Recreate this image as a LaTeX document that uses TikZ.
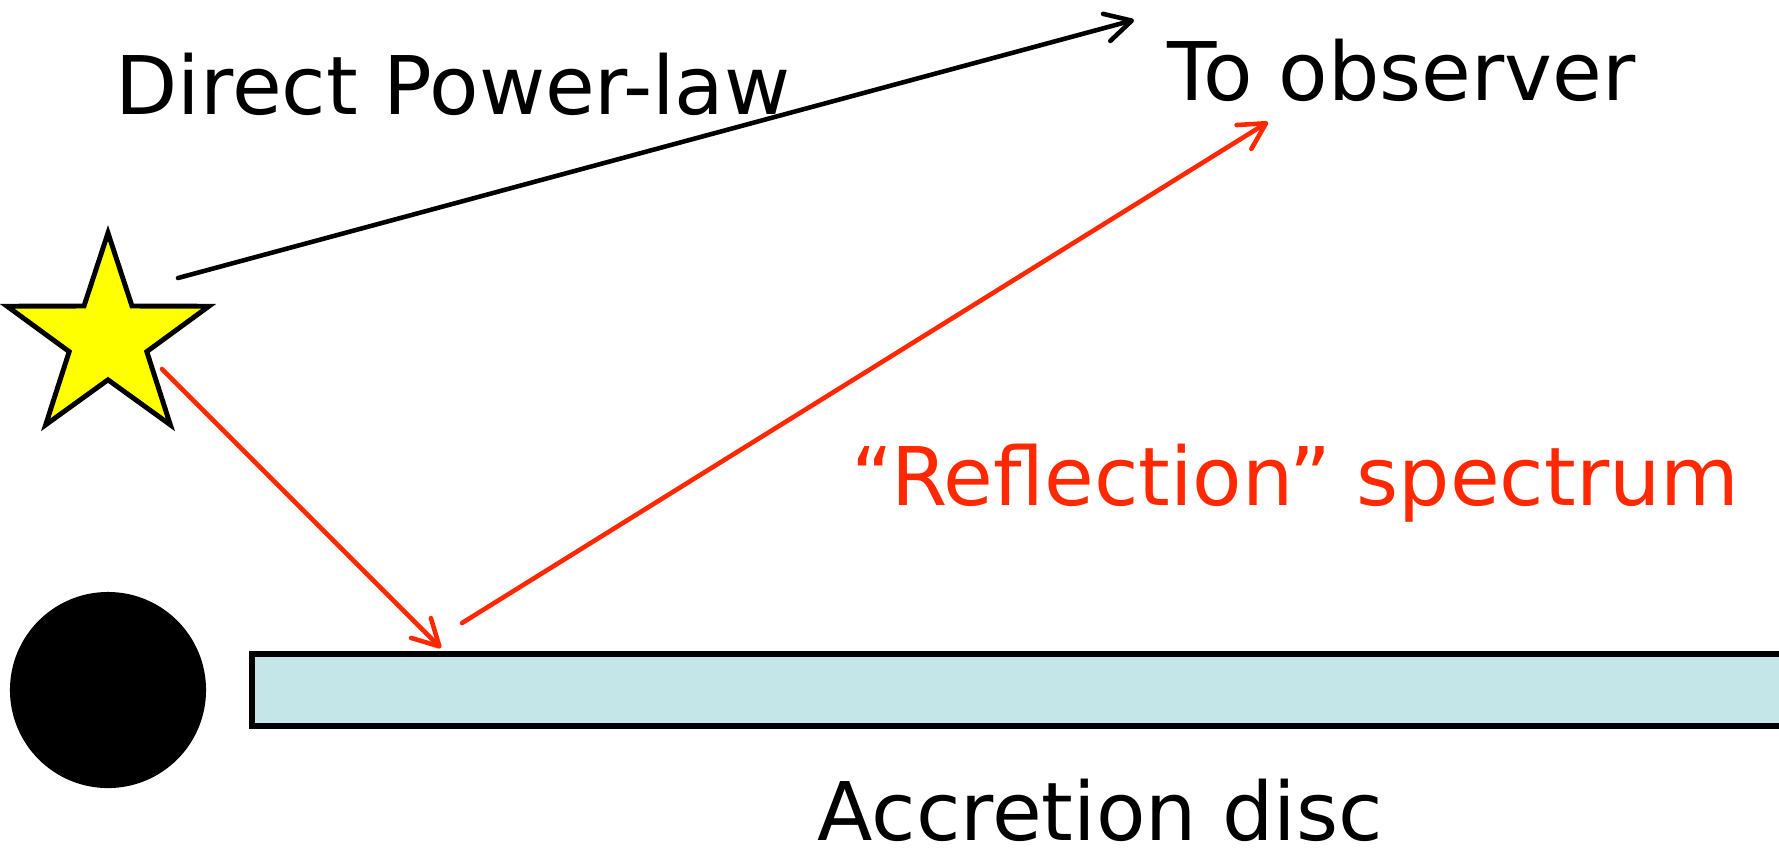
\documentclass[tikz,border=0pt]{standalone}
\usepackage{fontspec}
\setmainfont{DejaVu Sans}
\usetikzlibrary{shapes.geometric, arrows.meta, positioning}
\definecolor{reflred}{RGB}{255, 40, 0}
\definecolor{discblue}{RGB}{196, 230, 232}
\definecolor{staryellow}{RGB}{255, 255, 0}

\begin{document}
\begin{tikzpicture}[
    x=0.01cm, y=-0.01cm,
    txt/.style={anchor=base west, inner sep=0pt, font=\fontsize{23}{28}\selectfont},
    ray/.style={line width=1.3pt, line cap=round, -{Straight Barb[length=2.6mm, width=2.8mm, line cap=round, line join=round]}},
    srcstar/.style={star, star points=5, star point ratio=2.6, draw, fill=staryellow, line width=1.4pt, minimum size=2.12cm, inner sep=0pt},
    hole/.style={circle, fill=black, minimum size=1.96cm, inner sep=0pt}
  ]
  \useasboundingbox (0,0) rectangle (1779,856);

  % disc, cut by the right edge
  \fill[discblue] (252,654) rectangle (1779,726);
  \draw[line width=1.6pt] (1779,654) -- (252,654) -- (252,726) -- (1779,726);

  \node[srcstar] (src) at (108,339) {};
  \node[hole] (bh) at (108,690) {};

  \node[txt] (direct) at (115,114) {Direct Power-law};
  \node[txt] (obs) at (1167,100) {To observer};
  \node[txt, text=reflred] (refl) at (851,505) {“Reflection” spectrum};
  \node[txt] (disclbl) at (817,840) {Accretion disc};

  % ray ends
  \coordinate (pl-a) at (178,278);
  \coordinate (pl-b) at (1134,20);
  \coordinate (in-a) at (162,369);
  \coordinate (hit) at (441,648);
  \coordinate (out-a) at (462,623);
  \coordinate (out-b) at (1268,122);

  \draw[ray] (pl-a) -- (pl-b);
  \draw[ray, color=reflred] (in-a) -- (hit);
  \draw[ray, color=reflred] (out-a) -- (out-b);
\end{tikzpicture}
\end{document}
